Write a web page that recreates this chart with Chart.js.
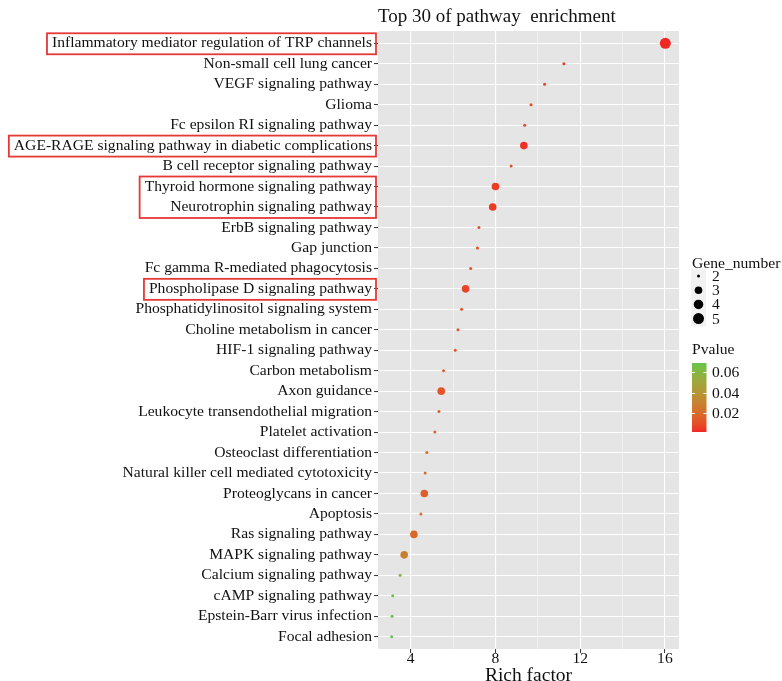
<!DOCTYPE html>
<html>
<head>
<meta charset="utf-8">
<script src="https://cdn.jsdelivr.net/npm/chart.js@4/dist/chart.umd.min.js"></script>
<style>
  html, body { margin: 0; padding: 0; background: #ffffff; }
  #wrap { width: 782px; height: 681px; }
</style>
</head>
<body>
<div id="wrap"><canvas id="chart" width="782" height="681"></canvas></div>
<script>
// KEGG pathways, listed top to bottom
const pathways = [
  'Inflammatory mediator regulation of TRP channels',
  'Non-small cell lung cancer',
  'VEGF signaling pathway',
  'Glioma',
  'Fc epsilon RI signaling pathway',
  'AGE-RAGE signaling pathway in diabetic complications',
  'B cell receptor signaling pathway',
  'Thyroid hormone signaling pathway',
  'Neurotrophin signaling pathway',
  'ErbB signaling pathway',
  'Gap junction',
  'Fc gamma R-mediated phagocytosis',
  'Phospholipase D signaling pathway',
  'Phosphatidylinositol signaling system',
  'Choline metabolism in cancer',
  'HIF-1 signaling pathway',
  'Carbon metabolism',
  'Axon guidance',
  'Leukocyte transendothelial migration',
  'Platelet activation',
  'Osteoclast differentiation',
  'Natural killer cell mediated cytotoxicity',
  'Proteoglycans in cancer',
  'Apoptosis',
  'Ras signaling pathway',
  'MAPK signaling pathway',
  'Calcium signaling pathway',
  'cAMP signaling pathway',
  'Epstein-Barr virus infection',
  'Focal adhesion'
];

const richFactor = [
  16.02, 11.23, 10.32, 9.68, 9.38, 9.34, 8.74, 8.00, 7.87, 7.22,
  7.15, 6.83, 6.59, 6.40, 6.23, 6.10, 5.55, 5.44, 5.33, 5.14,
  4.76, 4.68, 4.64, 4.48, 4.15, 3.69, 3.50, 3.15, 3.12, 3.10
];

const geneNumber = [
  5, 2, 2, 2, 2, 3, 2, 3, 3, 2,
  2, 2, 3, 2, 2, 2, 2, 3, 2, 2,
  2, 2, 3, 2, 3, 3, 2, 2, 2, 2
];

const pValue = [
  0.0018, 0.006, 0.007, 0.008, 0.008, 0.003, 0.009, 0.005, 0.005, 0.010,
  0.010, 0.011, 0.007, 0.012, 0.012, 0.013, 0.015, 0.012, 0.016, 0.017,
  0.020, 0.021, 0.015, 0.022, 0.019, 0.029, 0.061, 0.068, 0.068, 0.069
];

// pathways outlined in red (runs of adjacent rows)
const outlinedGroups = [[0, 0], [5, 5], [7, 8], [12, 12]];

const xMajorTicks = [4, 8, 12, 16];
const xMinorTicks = [6, 10, 14];
const sizeBreaks = [2, 3, 4, 5];
const pvalueBreaks = [0.02, 0.04, 0.06];

const FONT = "'Liberation Serif', 'Times New Roman', serif";
const LABEL_SIZE = 15.6;
const PANEL_BG = '#E5E5E5';
const OUTLINE_RED = '#E53935';

// ---- size scale (area proportional, like scale_size) ----
const gMin = Math.min(...sizeBreaks), gMax = Math.max(...sizeBreaks);
function radiusFor(n) {
  const t = Math.sqrt((n - gMin) / (gMax - gMin));
  return 1.5 + (5.5 - 1.5) * t;
}

// ---- colour scale: red (low p) to green (high p), interpolated in Lab ----
const LOW_RGB = [240, 40, 36];
const HIGH_RGB = [100, 196, 72];
function toLin(c) { c /= 255; return c <= 0.04045 ? c / 12.92 : Math.pow((c + 0.055) / 1.055, 2.4); }
function fromLin(c) { const v = c <= 0.0031308 ? 12.92 * c : 1.055 * Math.pow(c, 1 / 2.4) - 0.055; return Math.round(Math.max(0, Math.min(1, v)) * 255); }
function rgbToLab(rgb) {
  const [r, g, b] = rgb.map(toLin);
  const X = (0.4124 * r + 0.3576 * g + 0.1805 * b) / 0.95047;
  const Y = (0.2126 * r + 0.7152 * g + 0.0722 * b);
  const Z = (0.0193 * r + 0.1192 * g + 0.9505 * b) / 1.08883;
  const f = t => t > 0.008856 ? Math.cbrt(t) : 7.787 * t + 16 / 116;
  const fx = f(X), fy = f(Y), fz = f(Z);
  return [116 * fy - 16, 500 * (fx - fy), 200 * (fy - fz)];
}
function labToRgb([L, a, b]) {
  const fy = (L + 16) / 116, fx = fy + a / 500, fz = fy - b / 200;
  const inv = t => t * t * t > 0.008856 ? t * t * t : (t - 16 / 116) / 7.787;
  const X = inv(fx) * 0.95047, Y = inv(fy), Z = inv(fz) * 1.08883;
  const r = 3.2406 * X - 1.5372 * Y - 0.4986 * Z;
  const g = -0.9689 * X + 1.8758 * Y + 0.0415 * Z;
  const bb = 0.0557 * X - 0.2040 * Y + 1.0570 * Z;
  return [fromLin(r), fromLin(g), fromLin(bb)];
}
const LOW_LAB = rgbToLab(LOW_RGB), HIGH_LAB = rgbToLab(HIGH_RGB);
const pMin = Math.min(...pValue), pMax = Math.max(...pValue);
function colorFor(p) {
  const t = Math.max(0, Math.min(1, (p - pMin) / (pMax - pMin)));
  const lab = LOW_LAB.map((v, i) => v + (HIGH_LAB[i] - v) * t);
  const [r, g, b] = labToRgb(lab);
  return `rgb(${r},${g},${b})`;
}

// x range with 5% expansion on each side
const rMin = Math.min(...richFactor), rMax = Math.max(...richFactor);
const rPad = (rMax - rMin) * 0.05;

// ---- plugins ----
const panelBackground = {
  id: 'panelBackground',
  beforeDraw(chart) {
    const { ctx, chartArea: a } = chart;
    ctx.save();
    ctx.fillStyle = PANEL_BG;
    ctx.fillRect(a.left, a.top, a.right - a.left, a.bottom - a.top);
    ctx.restore();
  }
};

const plotTitle = {
  id: 'plotTitle',
  afterDraw(chart) {
    const { ctx, chartArea: a } = chart;
    ctx.save();
    ctx.font = `19px ${FONT}`;
    ctx.fillStyle = '#111';
    ctx.textAlign = 'left';
    ctx.textBaseline = 'middle';
    ctx.fillText('Top 30 of pathway  enrichment', a.left, 17);
    ctx.restore();
  }
};

const labelOutlines = {
  id: 'labelOutlines',
  afterDraw(chart) {
    const { ctx, chartArea: a } = chart;
    const y = chart.scales.y;
    const textRight = a.left - 6;
    ctx.save();
    ctx.font = `${LABEL_SIZE}px ${FONT}`;
    ctx.strokeStyle = OUTLINE_RED;
    ctx.lineWidth = 1.8;
    outlinedGroups.forEach(([i0, i1]) => {
      let w = 0;
      for (let i = i0; i <= i1; i++) w = Math.max(w, ctx.measureText(pathways[i]).width);
      const left = textRight - w - 5;
      const right = a.left - 2;
      const top = y.getPixelForValue(i0) - 10;
      const bottom = y.getPixelForValue(i1) + 11;
      ctx.strokeRect(left, top, right - left, bottom - top);
    });
    ctx.restore();
  }
};

const sideLegends = {
  id: 'sideLegends',
  afterDraw(chart) {
    const { ctx } = chart;
    const x0 = 692;
    ctx.save();
    ctx.fillStyle = '#111';
    ctx.textAlign = 'left';
    ctx.textBaseline = 'middle';
    ctx.font = `${LABEL_SIZE}px ${FONT}`;

    // Gene_number (point size)
    ctx.fillText('Gene_number', x0, 264);
    const rowTop = 276, rowStep = 14.2;
    ctx.fillStyle = '#F2F2F2';
    ctx.fillRect(x0 - 1, rowTop - 7.5, 15, rowStep * sizeBreaks.length + 1);
    sizeBreaks.forEach((n, i) => {
      const cy = rowTop + i * rowStep;
      ctx.fillStyle = '#000';
      ctx.beginPath();
      ctx.arc(x0 + 6.5, cy, radiusFor(n), 0, Math.PI * 2);
      ctx.fill();
      ctx.fillStyle = '#111';
      ctx.fillText(String(n), x0 + 20, cy + 1);
    });

    // Pvalue (colour bar)
    ctx.fillText('Pvalue', x0, 350);
    const barTop = 363, barBottom = 432, barLeft = x0, barW = 14.5;
    const grad = ctx.createLinearGradient(0, barBottom, 0, barTop);
    for (let k = 0; k <= 20; k++) {
      const p = pMin + (pMax - pMin) * k / 20;
      grad.addColorStop(k / 20, colorFor(p));
    }
    ctx.fillStyle = grad;
    ctx.fillRect(barLeft, barTop, barW, barBottom - barTop);
    const yOf = p => barBottom - (p - pMin) / (pMax - pMin) * (barBottom - barTop);
    ctx.strokeStyle = '#ffffff';
    ctx.lineWidth = 1;
    pvalueBreaks.forEach(p => {
      const yy = Math.round(yOf(p)) + 0.5;
      ctx.beginPath();
      ctx.moveTo(barLeft, yy); ctx.lineTo(barLeft + 3, yy);
      ctx.moveTo(barLeft + barW - 3, yy); ctx.lineTo(barLeft + barW, yy);
      ctx.stroke();
      ctx.fillStyle = '#111';
      ctx.fillText(p.toFixed(2), x0 + 20, yOf(p) + 1);
    });
    ctx.restore();
  }
};

const points = pathways.map((name, i) => ({ x: richFactor[i], y: i }));

new Chart(document.getElementById('chart'), {
  type: 'scatter',
  data: {
    datasets: [{
      data: points,
      pointRadius: ctx => radiusFor(geneNumber[ctx.dataIndex]),
      pointHoverRadius: ctx => radiusFor(geneNumber[ctx.dataIndex]),
      pointBackgroundColor: ctx => colorFor(pValue[ctx.dataIndex]),
      pointBorderWidth: 0,
      pointBorderColor: 'rgba(0,0,0,0)'
    }]
  },
  options: {
    responsive: false,
    animation: false,
    devicePixelRatio: 1,
    layout: { padding: { left: 0, right: 103, top: 31, bottom: 0 } },
    plugins: {
      legend: { display: false },
      tooltip: { enabled: false },
      title: { display: false }
    },
    scales: {
      x: {
        type: 'linear',
        position: 'bottom',
        min: rMin - rPad,
        max: rMax + rPad,
        afterBuildTicks: s => {
          s.ticks = [...xMajorTicks, ...xMinorTicks].sort((a, b) => a - b).map(v => ({ value: v }));
        },
        afterFit: s => { s.height = 32; },
        ticks: {
          autoSkip: false,
          maxRotation: 0,
          padding: -3,
          color: '#111',
          font: { family: FONT, size: LABEL_SIZE },
          callback: v => xMajorTicks.includes(v) ? String(v) : ''
        },
        grid: {
          color: ctx => xMajorTicks.includes(ctx.tick && ctx.tick.value) ? '#ffffff' : 'rgba(255,255,255,0.75)',
          lineWidth: ctx => xMajorTicks.includes(ctx.tick && ctx.tick.value) ? 1.1 : 0.6,
          tickLength: 4,
          tickWidth: 1,
          tickColor: ctx => xMajorTicks.includes(ctx.tick && ctx.tick.value) ? '#333' : 'rgba(0,0,0,0)'
        },
        border: { display: false },
        title: {
          display: true,
          text: 'Rich factor',
          color: '#111',
          font: { family: FONT, size: 19.5, lineHeight: 1 },
          padding: { top: 0, bottom: -5 }
        }
      },
      y: {
        type: 'linear',
        reverse: true,
        min: -0.6,
        max: pathways.length - 1 + 0.6,
        afterBuildTicks: s => {
          s.ticks = pathways.map((_, i) => ({ value: i }));
        },
        afterFit: s => { s.width = 378; },
        ticks: {
          autoSkip: false,
          padding: 2,
          color: '#111',
          font: { family: FONT, size: LABEL_SIZE },
          callback: v => pathways[v]
        },
        grid: {
          color: '#ffffff',
          lineWidth: 1.1,
          tickLength: 4,
          tickWidth: 1,
          tickColor: '#333'
        },
        border: { display: false }
      }
    }
  },
  plugins: [panelBackground, plotTitle, labelOutlines, sideLegends]
});
</script>
</body>
</html>
